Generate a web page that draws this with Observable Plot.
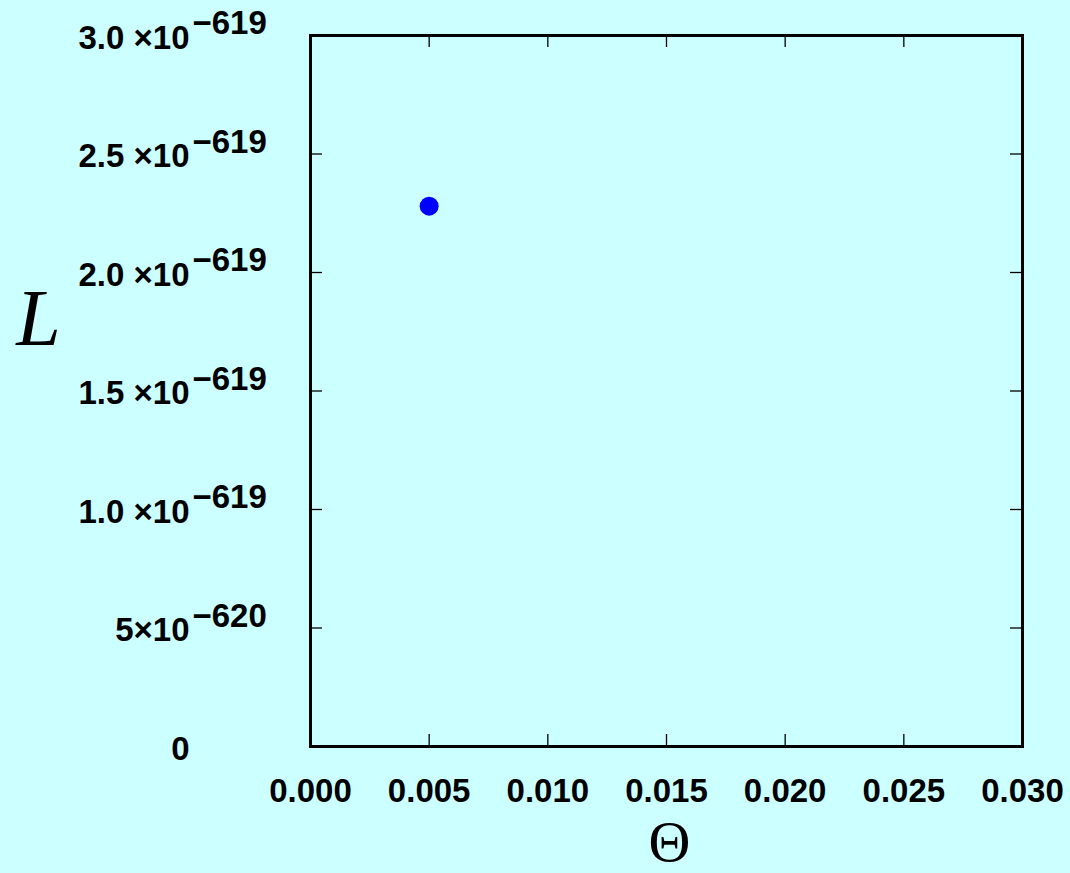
<!DOCTYPE html>
<html>
<head>
<meta charset="utf-8">
<script src="https://cdn.jsdelivr.net/npm/d3@7"></script>
<script src="https://cdn.jsdelivr.net/npm/@observablehq/plot@0.6"></script>
<style>
  html, body { margin: 0; padding: 0; background: #ccffff; }
  #chart svg { display: block; }
</style>
</head>
<body>
<div id="chart"></div>
<script>
// Data (L values in units of 1e-619, since 1e-619 underflows a double)
const theta = [0.005];
const L = [2.28];

// X ticks
const xTicks = [0, 0.005, 0.01, 0.015, 0.02, 0.025, 0.03];
const xTickLabels = ["0.000", "0.005", "0.010", "0.015", "0.020", "0.025", "0.030"];

// Y ticks (units of 1e-619)
const yTicks = [0, 0.5, 1, 1.5, 2, 2.5, 3];
const yTickBase = ["0", "5×10", "1.0 ×10", "1.5 ×10", "2.0 ×10", "2.5 ×10", "3.0 ×10"];
const yTickExp = ["", "−620", "−619", "−619", "−619", "−619", "−619"];

const points = theta.map((t, i) => ({theta: t, L: L[i]}));
const yLab = yTicks.map((v, i) => ({v, base: yTickBase[i], exp: yTickExp[i]}));
const xLab = xTicks.map((v, i) => ({v, label: xTickLabels[i]}));

const W = 1070, H = 873;
const mL = 310, mR = 48, mT = 35, mB = 127;
const innerW = W - mL - mR, innerH = H - mT - mB;
const tickLen = 12;
const sans = "'Liberation Sans', Arial, Helvetica, sans-serif";
const serif = "'Liberation Serif', 'Times New Roman', serif";

const chart = Plot.plot({
  width: W,
  height: H,
  marginLeft: mL,
  marginRight: mR,
  marginTop: mT,
  marginBottom: mB,
  style: {background: "#ccffff", overflow: "visible"},
  x: {domain: [0, 0.03], axis: null},
  y: {domain: [0, 3], axis: null},
  marks: [
    // inward ticks on all four sides
    Plot.tickX(xTicks, {x: d => d, insetTop: innerH - tickLen, stroke: "black", strokeWidth: 1.3}),
    Plot.tickX(xTicks, {x: d => d, insetBottom: innerH - tickLen, stroke: "black", strokeWidth: 1.3}),
    Plot.tickY(yTicks, {y: d => d, insetRight: innerW - tickLen, stroke: "black", strokeWidth: 1.3}),
    Plot.tickY(yTicks, {y: d => d, insetLeft: innerW - tickLen, stroke: "black", strokeWidth: 1.3}),
    Plot.frame({stroke: "black", strokeWidth: 3}),
    // x tick labels
    Plot.text(xLab, {x: "v", text: "label", frameAnchor: "bottom", lineAnchor: "bottom", dy: 55,
      fontSize: 33, fontWeight: "bold", fontFamily: sans, fill: "black"}),
    // y tick labels: mantissa part
    Plot.text(yLab, {y: "v", text: "base", frameAnchor: "left", textAnchor: "end", lineAnchor: "bottom",
      dx: -121, dy: 13, fontSize: 33, fontWeight: "bold", fontFamily: sans, fill: "black"}),
    // y tick labels: exponent part
    Plot.text(yLab, {y: "v", text: "exp", frameAnchor: "left", textAnchor: "start", lineAnchor: "bottom",
      dx: -118, dy: -1.5, fontSize: 33, fontWeight: "bold", fontFamily: sans, fill: "black"}),
    // axis labels
    Plot.text(["L"], {frameAnchor: "top-left", textAnchor: "middle", lineAnchor: "bottom",
      dx: -272, dy: 309, fontSize: 80, fontStyle: "italic", fontFamily: serif, fill: "black"}),
    Plot.text(["Θ"], {frameAnchor: "bottom", textAnchor: "middle", lineAnchor: "bottom",
      dx: 3, dy: 114, fontSize: 58, fontFamily: serif, fill: "black"}),
    // data
    Plot.dot(points, {x: "theta", y: "L", r: 9.5, fill: "#0000ff", stroke: "none"})
  ]
});
document.getElementById("chart").appendChild(chart);
</script>
</body>
</html>
